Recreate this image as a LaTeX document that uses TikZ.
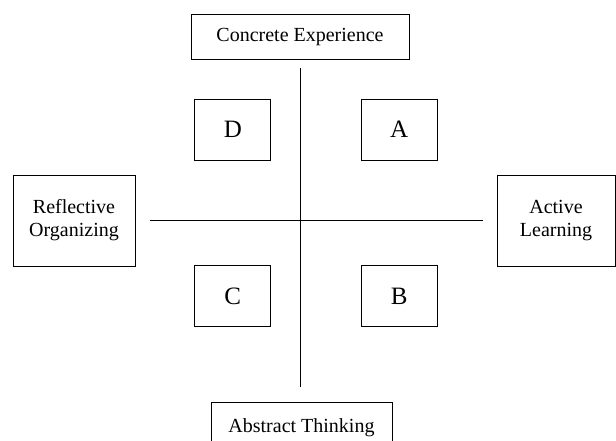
\documentclass[tikz,border=0pt]{standalone}
\usepackage{fontspec}
\setmainfont{Liberation Serif}
\usepackage{tikz}
\usetikzlibrary{positioning}

\tikzset{
  pole/.style={draw,line width=0.8pt,align=center,inner sep=0pt,
    font=\fontsize{20}{23}\selectfont},
  quad/.style={draw,line width=0.8pt,inner sep=0pt,
    minimum width=76pt,minimum height=61pt,
    font=\fontsize{25}{30}\selectfont},
  axis/.style={line width=0.8pt}
}

\begin{document}
\begin{tikzpicture}[x=1pt,y=-1pt]
          \clip (0,0) rectangle (616,441);
          \useasboundingbox (0,0) rectangle (616,441);
          % the four poles
          \node[pole,minimum width=218pt,minimum height=45pt]
            (concrete) at (300,36.7) {Concrete Experience};
          \node[pole,minimum width=122pt,minimum height=91pt]
            (reflective) at (74,220.5) {Reflective\\Organizing};
          \node[pole,minimum width=118pt,minimum height=91pt]
            (active) at (556,220.5) {Active\\Learning};
          \node[pole,anchor=north,minimum width=181pt,minimum height=51pt]
            (abstract) at (301.5,402) {Abstract Thinking};
          % the axes
          \coordinate (top) at (300.7,68.3);
          \coordinate (bottom) at (300.7,386.7);
          \coordinate (left) at (150,220.5);
          \coordinate (right) at (483,220.5);
          \draw[axis] (top) -- (bottom);
          \draw[axis] (left) -- (right);
          % the quadrants
          \node[quad] (qd) at (232.8,129.7) {D};
          \node[quad] (qa) at (399.2,129.7) {A};
          \node[quad] (qc) at (232.8,296.3) {C};
          \node[quad] (qb) at (399.2,296.3) {B};
        \end{tikzpicture}
\end{document}
